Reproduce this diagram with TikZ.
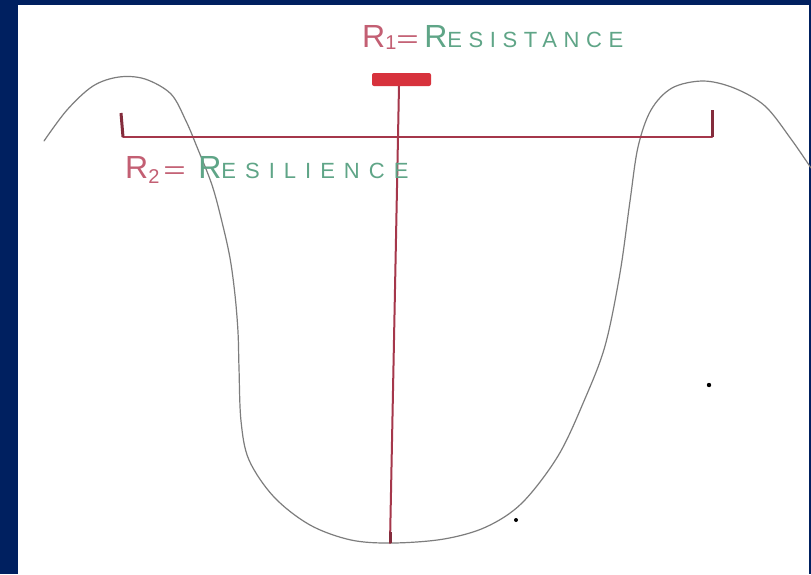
\documentclass[tikz,border=0pt]{standalone}
\usepackage{fontspec}
\usepackage{graphicx}
\setmainfont{Liberation Sans}
\definecolor{navy}{RGB}{0,32,96}
\definecolor{curvegray}{RGB}{125,125,125}
\definecolor{linered}{RGB}{165,55,75}
\definecolor{barred}{RGB}{215,50,60}
\definecolor{labred}{RGB}{195,95,115}
\definecolor{labgreen}{RGB}{95,165,135}
\tikzset{
  curveline/.style={draw=curvegray, line width=1.2pt, line cap=round, line join=round},
  redline/.style={draw=linered, line width=2pt, line cap=round},
  ticks/.style={draw=linered!80!black, line width=3pt},
  label/.style={inner sep=0pt, anchor=base west},
}
\newcommand{\bigR}{\fontsize{32}{32}\selectfont}
\newcommand{\wideeq}{\scalebox{1.6}[1]{=}}
\begin{document}
\begin{tikzpicture}[x=1pt,y=-1pt]
\useasboundingbox (0,0) rectangle (811,574);
\fill[navy] (0,0) rectangle (811,574);
\fill[white] (18,5) rectangle (809,574);
% curve
\draw[curveline] plot[smooth, tension=0.55] coordinates {
  (44,141) (67,110) (93,86) (119,77) (145,79) (171,94) (186,121) (197,147)
  (212,185) (222,222) (230,258) (235,295) (238,332) (239,368) (241,421)
  (249,460) (274,497) (310,525) (351,540) (393,543) (444,539) (486,527)
  (522,503) (558,456) (584,401) (605,346) (620,273) (630,201) (638,147)
  (651,110) (672,88) (703,81) (734,88) (765,106) (791,139) (811,168)};
% red scale
\coordinate (tl) at (121,113);
\coordinate (hl) at (123,137);
\coordinate (hr) at (712,137);
\coordinate (tr) at (712,110);
\coordinate (vt) at (399,86);
\coordinate (vb) at (390,543);
\draw[redline] (hl) -- (hr);
\draw[ticks] (tl) -- (hl);
\draw[ticks] (tr) -- (hr);
\draw[redline] (vt) -- (vb);
\draw[ticks] (390,532) -- (vb);
\fill[barred, rounded corners=2pt] (372,73) rectangle (431,86);
% specks
\fill[black] (709,385) circle (2.2);
\fill[black] (516,520) circle (2);
% labels
\node[label] (r1) at (362,47) {\color{labred}\bigR R\raisebox{-2pt}{\fontsize{20}{20}\selectfont 1}\fontsize{24}{24}\selectfont\wideeq};
\node[label] (res) at ([xshift=5pt]r1.base east) {\color{labgreen}\bigR R{\fontsize{22}{22}\selectfont\addfontfeature{LetterSpace=30}ESISTANCE}};
\node[label] (r2) at (125,178) {\color{labred}\bigR R\raisebox{-5pt}{\fontsize{20}{20}\selectfont 2}\fontsize{24}{24}\selectfont\,\wideeq};
\node[label] (resil) at ([xshift=12pt]r2.base east) {\color{labgreen}\bigR R{\fontsize{22}{22}\selectfont\addfontfeature{LetterSpace=41}ESILIENCE}};
\end{tikzpicture}
\end{document}
